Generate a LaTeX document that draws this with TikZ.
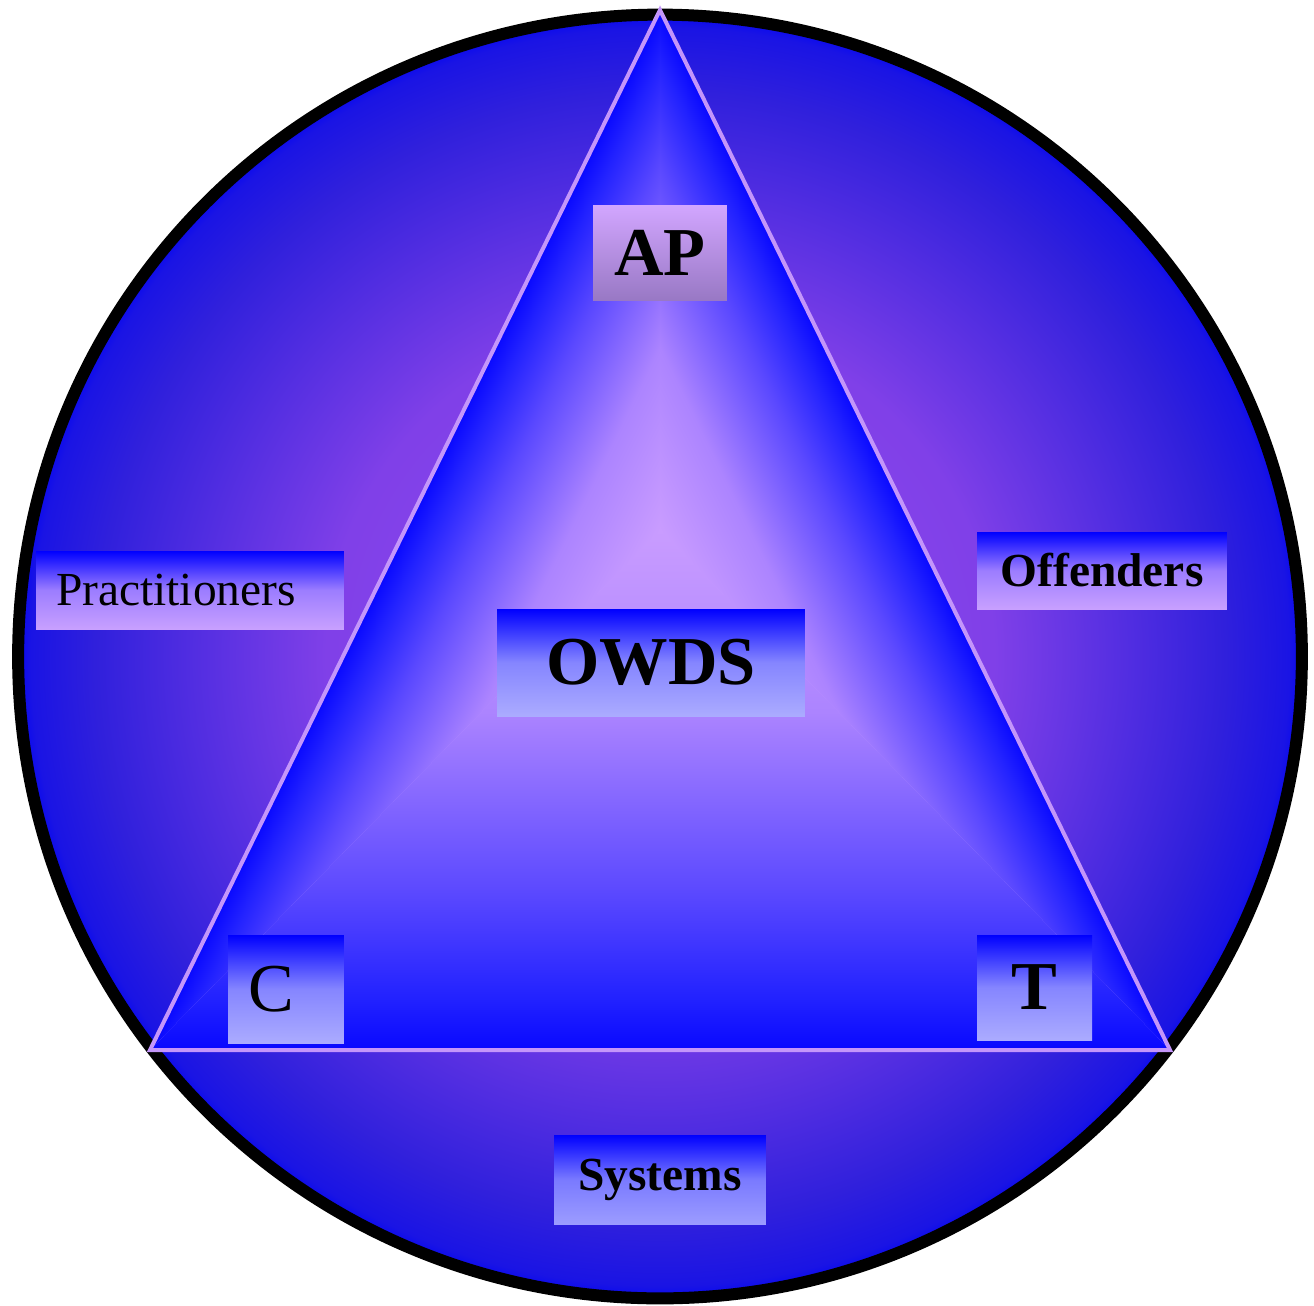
\documentclass[tikz,border=0pt]{standalone}
\usepackage{fontspec}
\setmainfont{Liberation Serif}
\definecolor{cA}{HTML}{8E48EE}
\definecolor{cB}{HTML}{8040E8}
\definecolor{cC}{HTML}{3020DC}
\definecolor{cD}{HTML}{1A14E4}
\definecolor{cE}{HTML}{0808F0}
\definecolor{tlilac}{HTML}{C99CFF}
\definecolor{tA}{HTML}{AC84FF}
\definecolor{tB}{HTML}{5A48FF}
\definecolor{tC}{HTML}{2222FF}
\definecolor{tblue}{HTML}{0808FF}
\definecolor{tedge}{HTML}{C496FA}
\definecolor{boxtop}{HTML}{0000FF}
\definecolor{lilacbot}{HTML}{C8A0FF}
\definecolor{palebot}{HTML}{ABABFF}
\definecolor{sysbot}{HTML}{9C9CFF}
\definecolor{aptop}{HTML}{D2A6FF}
\definecolor{apbot}{HTML}{9878C4}
\pgfdeclareverticalshading{trish}{100bp}{color(0bp)=(tlilac); color(25bp)=(tlilac); color(42.5bp)=(tA); color(60bp)=(tB); color(70bp)=(tC); color(75bp)=(tblue); color(100bp)=(tblue)}
\pgfdeclareradialshading{circsh}{\pgfpoint{0bp}{0bp}}{color(0bp)=(cA); color(13bp)=(cB); color(22bp)=(cC); color(24.5bp)=(cD); color(25bp)=(cE); color(50bp)=(cE)}
\begin{document}
\begin{tikzpicture}[x=0.02cm, y=-0.02cm,
  labelbox/.style={rectangle, inner sep=0pt, text=black},
  bluegrad/.style={top color=boxtop, bottom color=#1, middle color=#1!78!boxtop},
  apgrad/.style={top color=aptop, bottom color=apbot},
  bigbold/.style={font=\fontsize{39}{45}\selectfont\bfseries},
  bigreg/.style={font=\fontsize{39}{45}\selectfont},
  smallbold/.style={font=\fontsize{27}{32}\selectfont\bfseries},
  smallreg/.style={font=\fontsize{27}{32}\selectfont},
  leftpad/.style={text width=#1, inner xsep=0.4cm, align=left},
  triedge/.style={draw=tedge, line width=0.08cm}]
\useasboundingbox (0,0) rectangle (1314,1305);
% circle
\coordinate (O) at (660,656.5);
\shade[shading=circsh] (O) circle[radius=12.84cm];
\draw[black, line width=0.24cm] (O) circle[radius=12.84cm];
% triangle
\coordinate (A) at (660,10);
\coordinate (L) at (150,1050);
\coordinate (R) at (1170,1050);
\coordinate (P) at (660,530);
\fill[tlilac] (A) -- (L) -- (R) -- cycle;
\begin{scope}
  \clip (P) -- (L) -- (R) -- cycle;
  \begin{scope}[transform canvas={shift={(P)}, rotate=180}]
    \shade[shading=trish] (-1000,0) rectangle (1000,-520);
  \end{scope}
\end{scope}
\begin{scope}
  \clip (P) -- (A) -- (L) -- cycle;
  \begin{scope}[transform canvas={shift={(P)}, rotate=63.87}]
    \shade[shading=trish] (-1000,0) rectangle (1000,-229);
  \end{scope}
\end{scope}
\begin{scope}
  \clip (P) -- (A) -- (R) -- cycle;
  \begin{scope}[transform canvas={shift={(P)}, rotate=-63.87}]
    \shade[shading=trish] (-1000,0) rectangle (1000,-229);
  \end{scope}
\end{scope}
\draw[triedge] (A) -- (L) -- (R) -- cycle;
% labels
\node[labelbox, apgrad, bigbold, minimum width=2.68cm, minimum height=1.92cm] (ap) at (660,253) {AP};
\node[labelbox, bluegrad=palebot, bigbold, minimum width=6.16cm, minimum height=2.14cm] (owds) at (651,662.5) {OWDS};
\node[labelbox, bluegrad=lilacbot, smallreg, leftpad=5.36cm, minimum height=1.56cm] (prac) at (190,590) {Practitioners};
\node[labelbox, bluegrad=lilacbot, smallbold, minimum width=5.0cm, minimum height=1.54cm] (off) at (1102,570.5) {Offenders};
\node[labelbox, bluegrad=palebot, bigreg, leftpad=1.52cm, minimum height=2.16cm] (c) at (286,989) {C};
\node[labelbox, bluegrad=palebot, bigbold, minimum width=2.30cm, minimum height=2.10cm] (t) at (1034.5,987.5) {T};
\node[labelbox, bluegrad=sysbot, smallbold, minimum width=4.24cm, minimum height=1.78cm] (sys) at (660,1179.5) {Systems};
\end{tikzpicture}
\end{document}
